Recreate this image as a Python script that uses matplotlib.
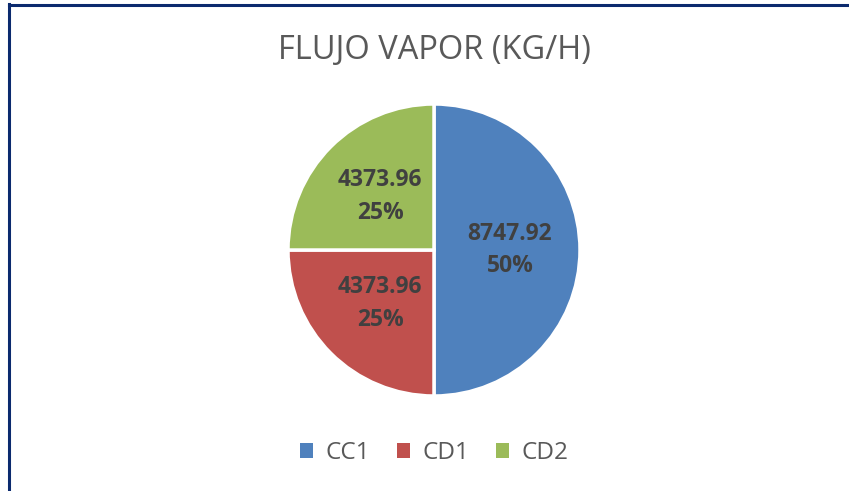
import matplotlib
matplotlib.use("Agg")
import matplotlib.pyplot as plt
from matplotlib.patches import Rectangle
from matplotlib.lines import Line2D

title = "FLUJO VAPOR (KG/H)"
categories = ["CC1", "CD1", "CD2"]
values = [8747.92, 4373.96, 4373.96]
colors = ["#4F81BD", "#C0504D", "#9BBB59"]

W, H = 849, 491
fig = plt.figure(figsize=(W / 100, H / 100), dpi=100)
fig.patch.set_facecolor("white")

# border (top and left)
fig.add_artist(Line2D([8.5 / W, 1.0], [1 - 4.5 / H, 1 - 4.5 / H], color="#0B2A6E", lw=2.2, transform=fig.transFigure))
fig.add_artist(Line2D([8.5 / W, 8.5 / W], [0.0, 1 - 3.5 / H], color="#0B2A6E", lw=2.2, transform=fig.transFigure))

fam = ["Open Sans", "DejaVu Sans"]

cx, cy, r = 434, 250, 146
ax = fig.add_axes([(cx - r) / W, 1 - (cy + r) / H, 2 * r / W, 2 * r / H])
total = sum(values)

def fmt(p):
    v = p * total / 100
    return f"{v:.2f}\n{p:.0f}%"

wedges, texts, autotexts = ax.pie(
    values, colors=colors, startangle=90, counterclock=False,
    autopct=fmt, pctdistance=0.52,
    wedgeprops=dict(edgecolor="white", linewidth=2.5),
    textprops=dict(color="#404040", fontsize=16.5, fontweight="bold", family=fam, linespacing=1.5),
)
ax.set_aspect("equal")
ax.set_xlim(-1, 1)
ax.set_ylim(-1, 1)

fig.text(cx / W, 1 - 50 / H, title, ha="center", va="center", fontsize=23.5, color="#595959", family=fam)

# legend
leg_y = 1 - 453 / H
handles = [Rectangle((0, 0), 1, 1, facecolor=c, edgecolor="none") for c in colors]
fig.legend(handles, categories, loc="center", bbox_to_anchor=(cx / W, leg_y), ncol=3, frameon=False,
           prop=dict(family=fam, size=17.5), labelcolor="#595959", handlelength=0.55, handleheight=0.55,
           handletextpad=0.5, columnspacing=1.1)

fig.savefig("out.png", dpi=100, facecolor="white")
